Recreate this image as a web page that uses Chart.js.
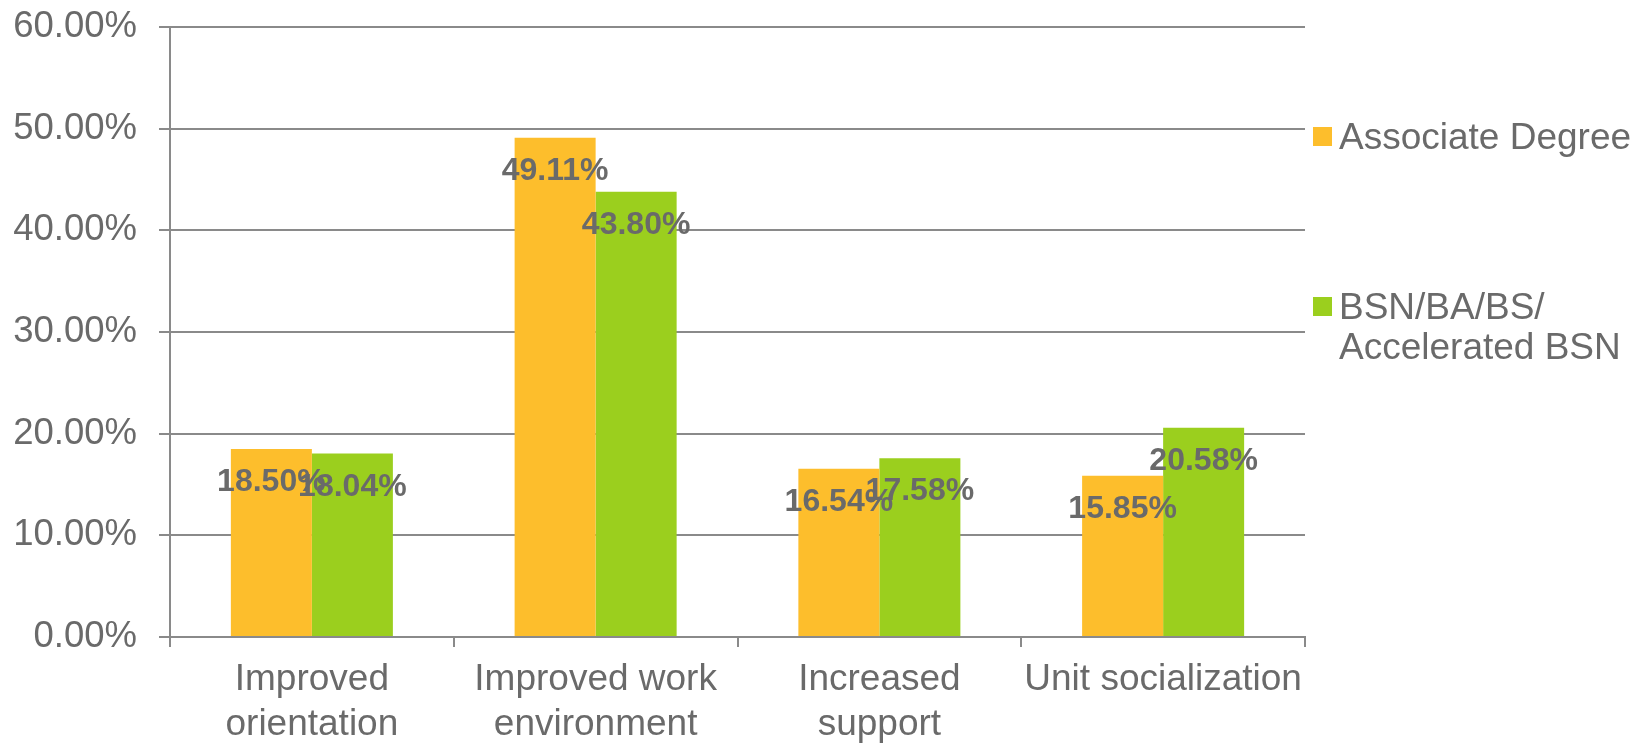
<!DOCTYPE html>
<html>
<head>
<meta charset="utf-8">
<script src="https://cdn.jsdelivr.net/npm/chart.js@4/dist/chart.umd.min.js"></script>
<style>
  html, body { margin: 0; padding: 0; background: #ffffff; }
  #wrap { width: 1652px; height: 745px; }
</style>
</head>
<body>
<div id="wrap"><canvas id="chart" width="1652" height="745"></canvas></div>
<script>
// Categories (multi-line axis labels)
const categories = [
  ['Improved', 'orientation'],
  ['Improved work', 'environment'],
  ['Increased', 'support'],
  ['Unit socialization']
];

// Series names
const seriesNames = [
  ['Associate Degree'],
  ['BSN/BA/BS/', 'Accelerated BSN']
];

// Series values (percent)
const associateDegree = [18.50, 49.11, 16.54, 15.85];
const bsnDegree = [18.04, 43.80, 17.58, 20.58];

// Y-axis tick values
const yTicks = [0, 10, 20, 30, 40, 50, 60];

const seriesColors = ['#FDBE2C', '#9BCF1E'];
const textColor = '#6a6a6a';
const gridColor = '#8a8a8a';
const fontFamily = "'Liberation Sans', Arial, sans-serif";

// Value labels drawn just inside the top of each bar
const valueLabels = {
  id: 'valueLabels',
  afterDatasetsDraw(chart) {
    const ctx = chart.ctx;
    ctx.save();
    ctx.font = 'bold 32px ' + fontFamily;
    ctx.fillStyle = textColor;
    ctx.textAlign = 'center';
    ctx.textBaseline = 'alphabetic';
    chart.data.datasets.forEach((ds, i) => {
      chart.getDatasetMeta(i).data.forEach((bar, j) => {
        const v = ds.data[j];
        ctx.fillText(v.toFixed(2) + '%', bar.x, bar.y + 42);
      });
    });
    ctx.restore();
  }
};

// Legend on the right, one entry per series
const sideLegend = {
  id: 'sideLegend',
  afterDraw(chart) {
    const ctx = chart.ctx;
    const area = chart.chartArea;
    const x0 = area.right + 8;
    const entryY = [136.5, 306.5];
    ctx.save();
    ctx.font = '37px ' + fontFamily;
    ctx.textBaseline = 'middle';
    ctx.textAlign = 'left';
    seriesNames.forEach((lines, i) => {
      ctx.fillStyle = seriesColors[i];
      ctx.fillRect(x0, entryY[i] - 9.5, 19, 19);
      ctx.fillStyle = textColor;
      lines.forEach((line, k) => {
        ctx.fillText(line, x0 + 26, entryY[i] + 2 + k * 40);
      });
    });
    ctx.restore();
  }
};

new Chart(document.getElementById('chart'), {
  type: 'bar',
  data: {
    labels: categories,
    datasets: [
      { label: seriesNames[0].join(' '), data: associateDegree, backgroundColor: seriesColors[0] },
      { label: seriesNames[1].join(' '), data: bsnDegree, backgroundColor: seriesColors[1] }
    ]
  },
  options: {
    responsive: false,
    animation: false,
    devicePixelRatio: 1,
    layout: { padding: { top: 27, right: 347, left: 0, bottom: 0 } },
    datasets: {
      bar: { categoryPercentage: 0.571, barPercentage: 1.0, borderWidth: 0 }
    },
    plugins: {
      legend: { display: false },
      tooltip: { enabled: false }
    },
    scales: {
      x: {
        grid: {
          display: true,
          drawOnChartArea: false,
          drawTicks: true,
          tickLength: 10,
          color: gridColor,
          lineWidth: 2,
          offset: true
        },
        border: { display: true, color: gridColor, width: 2 },
        ticks: {
          color: textColor,
          font: { family: fontFamily, size: 37, lineHeight: 1.2 },
          padding: 11,
          maxRotation: 0,
          autoSkip: false
        },
        afterFit(scale) { scale.height = 108; }
      },
      y: {
        min: 0,
        max: 60,
        afterBuildTicks(scale) { scale.ticks = yTicks.map(v => ({ value: v })); },
        grid: {
          color: gridColor,
          lineWidth: 2,
          tickLength: 11,
          drawTicks: true
        },
        border: { display: true, color: gridColor, width: 2 },
        ticks: {
          color: textColor,
          font: { family: fontFamily, size: 36.5 },
          padding: 22,
          callback: v => v.toFixed(2) + '%'
        },
        afterFit(scale) {
          scale.width = 170;
          scale.paddingTop = 0;
          scale.paddingBottom = 0;
        }
      }
    }
  },
  plugins: [valueLabels, sideLegend]
});
</script>
</body>
</html>
